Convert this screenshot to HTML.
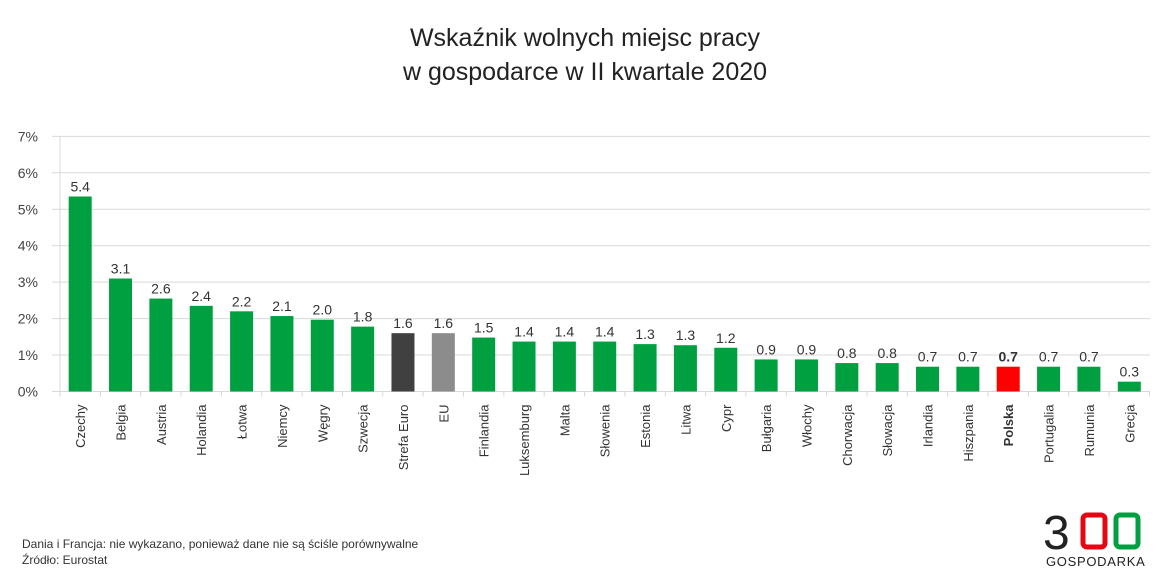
<!DOCTYPE html>
<html><head><meta charset="utf-8"><style>
body{margin:0;background:#fff;width:1170px;height:585px;overflow:hidden;font-family:"Liberation Sans",sans-serif}
svg{display:block}
</style></head><body>
<svg id="c" width="1170" height="585">
<text x="585" y="46" text-anchor="middle" font-size="25" fill="#222">Wskaźnik wolnych miejsc pracy</text>
<text x="585" y="80" text-anchor="middle" font-size="25" fill="#222">w gospodarce w II kwartale 2020</text>
<g id="grid"></g><g id="bars"></g>
<text x="22" y="548" font-size="12" fill="#333">Dania i Francja: nie wykazano, ponieważ dane nie są ściśle porównywalne</text>
<text x="22" y="564" font-size="12" fill="#333">Źródło: Eurostat</text>
<g>
<text x="1043" y="549" font-size="48" fill="#222">3</text>
<rect x="1083" y="515" width="22" height="32" rx="4" fill="none" stroke="#e30613" stroke-width="5"/>
<rect x="1116" y="515" width="22" height="32" rx="4" fill="none" stroke="#00a040" stroke-width="5"/>
<text x="1046" y="566" font-size="13" fill="#222" letter-spacing="0.7">GOSPODARKA</text>
</g>
</svg>
<script>
const categories=["Czechy","Belgia","Austria","Holandia","Łotwa","Niemcy","Węgry","Szwecja","Strefa Euro","EU","Finlandia","Luksemburg","Malta","Słowenia","Estonia","Litwa","Cypr","Bułgaria","Włochy","Chorwacja","Słowacja","Irlandia","Hiszpania","Polska","Portugalia","Rumunia","Grecja"];
const values=[5.35,3.1,2.55,2.35,2.2,2.07,1.97,1.78,1.6,1.6,1.48,1.37,1.37,1.37,1.3,1.27,1.2,0.88,0.88,0.78,0.78,0.68,0.68,0.68,0.68,0.68,0.27];
const labels=["5.4","3.1","2.6","2.4","2.2","2.1","2.0","1.8","1.6","1.6","1.5","1.4","1.4","1.4","1.3","1.3","1.2","0.9","0.9","0.8","0.8","0.7","0.7","0.7","0.7","0.7","0.3"];
const yTicks=[0,1,2,3,4,5,6,7];
const NS="http://www.w3.org/2000/svg";
const x0=60,step=40.35,y0=391.5,pp=36.45;
const X=i=>x0+step*i+step/2, Y=v=>y0-v*pp;
const g=document.getElementById('grid'),b=document.getElementById('bars');
function mk(p,t,a){const e=document.createElementNS(NS,t);for(const k in a)e.setAttribute(k,a[k]);p.appendChild(e);return e;}
yTicks.forEach(t=>{
 const l=mk(g,'line',{x1:52,x2:1150,y1:Y(t),y2:Y(t),stroke:'#d9d9d9','stroke-width':1});
 
 
 const tx=mk(g,'text',{x:38,y:Y(t)+5,'text-anchor':'end','font-size':14,fill:'#444'});
 tx.textContent=t+'%';
 
 
});
mk(g,'line',{x1:x0,x2:x0,y1:Y(7),y2:y0+5,stroke:'#d9d9d9'});
for(let i=0;i<=categories.length;i++) mk(g,'line',{x1:x0+step*i,x2:x0+step*i,y1:y0,y2:y0+5,stroke:'#d9d9d9'});
categories.forEach((c,i)=>{
 const col=c==="Strefa Euro"?"#404040":c==="EU"?"#8c8c8c":c==="Polska"?"#ff0000":"#00a040";
 const r=mk(b,'rect',{x:X(i)-11.5,y:Y(values[i]),width:23,height:values[i]*pp,fill:col});
 
 
 const bold=c==="Polska"?'bold':'normal';
 const v=mk(b,'text',{x:X(i),y:Y(values[i])-5,'text-anchor':'middle','font-size':14,fill:'#333','font-weight':bold});
 v.textContent=labels[i];
 
 
 const t=mk(b,'text',{transform:`translate(${X(i)+5},${y0+13}) rotate(-90)`,'text-anchor':'end','font-size':13,fill:'#333','font-weight':bold});
 t.textContent=c;
 
 
});
</script>
</body></html>
